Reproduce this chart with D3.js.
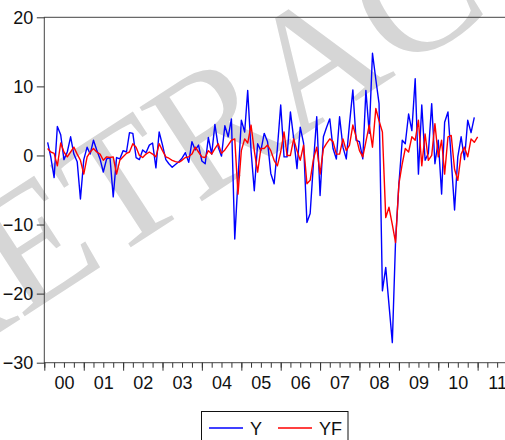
<!DOCTYPE html>
<html>
<head>
<meta charset="utf-8">
<script src="https://cdn.jsdelivr.net/npm/d3@7"></script>
<style>
  html, body { margin: 0; padding: 0; background: #fff; }
  svg { display: block; font-family: "Liberation Sans", Arial, sans-serif; }
</style>
</head>
<body>
<div id="chart"></div>
<script>
// Monthly series, first observation 2000M02
const startMonth = "2000-02";

const yValues = [
  1.9, -0.2, -3.2, 4.2, 3.0, -0.6, 0.5, 2.7, 0.2, -0.9, -6.3, -0.6,
  1.2, 0.2, 2.2, 0.8, -0.5, -2.4, -0.5, -0.3, -6.0, -0.3, -0.5, 0.7,
  0.5, 3.3, 3.2, -0.3, -0.6, 0.8, 0.4, 1.5, 1.8, -1.8, 3.4, 1.5,
  -0.6, -1.2, -1.7, -1.3, -0.9, -0.4, 0.4, -1.0, 2.0, 0.8, 1.5, -0.8,
  -1.2, 2.6, 0.2, 4.5, 1.2, -0.1, 4.3, 2.7, 5.3, -12.1, -3.5, 5.1,
  3.4, 9.4, 0.7, -5.1, 1.7, 0.7, 3.2, 2.0, -2.6, -4.1, 1.0, 7.3,
  -0.2, -0.2, 6.3, 2.5, -1.9, 4.1, 1.8, -9.7, -8.4, -1.0, 5.6, -5.8,
  2.7, 4.0, 5.3, 1.0, -0.5, 5.6, 1.2, -0.5, 4.6, 9.5, 2.2, 2.0,
  -0.5, 9.4, 3.2, 14.8, 11.0, 7.5, -19.6, -16.2, -21.6, -27.1, -12.3, -4.1,
  2.2, 1.7, 6.0, 3.6, 11.1, -2.7, 7.3, -0.7, 0.3, 7.5, -1.2, 2.2,
  -5.6, 4.8, 6.3, -0.5, -7.9, -0.2, 2.7, -0.6, 5.1, 3.3, 5.5
];

const yfValues = [
  1.0, 0.5, 0.3, -1.5, 1.8, 0.5, -0.2, 0.5, 1.2, 0.2, -0.7, -2.7,
  -0.2, 0.5, 1.0, 0.5, 0.2, -0.7, -0.2, -0.3, -0.2, -2.7, -0.7, -0.2,
  0.3, 0.5, 1.7, 1.2, 0.0, -0.3, 0.2, 0.5, 0.2, -0.2, 1.7, 0.7,
  -0.2, -0.4, -0.7, -0.9, -1.0, -0.7, -0.3, -0.2, 0.2, 1.2, 0.5, -0.2,
  -0.3, 0.7, 0.2, 1.0, 1.7, 0.3, 0.8, 1.5, 2.2, 2.4, -5.6, 0.7,
  2.4, 1.8, 4.4, 0.7, -2.4, 1.0, 1.0, 1.5, 0.7, -0.7, -1.5, 0.5,
  3.4, 0.0, 0.0, 2.4, 0.7, -0.7, 1.5, -4.1, -3.6, -0.5, 1.2, -2.7,
  1.0, 1.7, 2.4, 2.0, 0.2, 0.2, 2.4, 0.7, 1.5, 4.4, 2.7, 0.7,
  -0.2, 2.0, 4.4, 1.2, 6.8, 5.0, 3.4, -9.0, -7.5, -10.0, -12.6, -4.1,
  -1.2, 1.0, 0.5, 2.7, 2.2, 5.1, -1.5, 3.1, -0.7, 0.0, 4.6, -0.2,
  2.2, -2.7, 2.7, 2.9, -2.0, -3.6, 0.2, 1.2, -0.2, 2.4, 1.9, 2.7
];

const yTicks = [20, 10, 0, -10, -20, -30];
const yearLabels = ["00", "01", "02", "03", "04", "05", "06", "07", "08", "09", "10", "11"];
const seriesNames = ["Y", "YF"];
const seriesColors = ["#0000ff", "#ff0000"];
const watermarkText = "RETRACTED";

const width = 505, height = 440;
const plot = { left: 44.3, right: 517, top: 17.3, bottom: 362.7 };

const svg = d3.select("#chart").append("svg")
  .attr("width", width)
  .attr("height", height);

const x = d3.scaleTime()
  .domain([new Date(2000, 0, 1), new Date(2012, 0, 1)])
  .range([plot.left, plot.right]);

const y = d3.scaleLinear()
  .domain([-30, 20])
  .range([plot.bottom, plot.top]);

const t0 = d3.timeParse("%Y-%m")(startMonth);
const toPoints = vals => vals.map((v, i) => ({ date: d3.timeMonth.offset(t0, i), value: v }));
const series = [
  { name: seriesNames[0], color: seriesColors[0], points: toPoints(yValues) },
  { name: seriesNames[1], color: seriesColors[1], points: toPoints(yfValues) }
];

// watermark behind the chart
svg.append("text")
  .attr("transform", "translate(318,58) rotate(-33)")
  .attr("text-anchor", "middle")
  .attr("dy", "0.33em")
  .attr("font-family", "'Liberation Serif', 'Times New Roman', serif")
  .attr("font-size", 172)
  .attr("fill", "#d6d6d6")
  .text(watermarkText);

// frame
svg.append("rect")
  .attr("x", plot.left).attr("y", plot.top)
  .attr("width", plot.right - plot.left)
  .attr("height", plot.bottom - plot.top)
  .attr("fill", "none")
  .attr("stroke", "#444")
  .attr("stroke-width", 1);

// y axis
const yAxis = svg.append("g")
  .attr("transform", `translate(${plot.left},0)`)
  .call(d3.axisLeft(y).tickValues(yTicks).tickSize(7.5).tickPadding(3.5));
yAxis.select(".domain").remove();

// x axis: quarter ticks, year ticks, centred year labels
const xMinor = svg.append("g")
  .attr("transform", `translate(0,${plot.bottom})`)
  .call(d3.axisBottom(x).ticks(d3.timeMonth.every(3)).tickSize(5).tickFormat(""));
const xMajor = svg.append("g")
  .attr("transform", `translate(0,${plot.bottom})`)
  .call(d3.axisBottom(x).ticks(d3.timeYear.every(1)).tickSize(8).tickFormat(""));
const midYears = yearLabels.map((l, i) => new Date(2000 + i, 6, 1));
const xLabels = svg.append("g")
  .attr("transform", `translate(0,${plot.bottom})`)
  .call(d3.axisBottom(x).tickValues(midYears).tickSize(0).tickPadding(14)
    .tickFormat((d, i) => yearLabels[i]));
[xMinor, xMajor, xLabels].forEach(g => g.select(".domain").remove());

svg.selectAll(".tick line").attr("stroke", "#333");
svg.selectAll(".tick text")
  .attr("font-size", 18)
  .attr("font-family", "'Liberation Sans', Arial, sans-serif")
  .attr("fill", "#111");

// lines
const line = d3.line()
  .x(d => x(d.date))
  .y(d => y(d.value));

svg.append("g")
  .selectAll("path")
  .data(series)
  .join("path")
    .attr("fill", "none")
    .attr("stroke", d => d.color)
    .attr("stroke-width", 1.4)
    .attr("stroke-linejoin", "round")
    .attr("d", d => line(d.points));

// legend
const legend = svg.append("g");
legend.append("rect")
  .attr("x", 201.5).attr("y", 411.5)
  .attr("width", 146.5).attr("height", 40)
  .attr("fill", "#fff")
  .attr("stroke", "#111");

const items = legend.selectAll("g.item")
  .data(series)
  .join("g")
    .attr("class", "item")
    .attr("transform", (d, i) => `translate(${209 + i * 69},428)`);
items.append("line")
  .attr("x1", 0).attr("x2", 34)
  .attr("stroke", d => d.color)
  .attr("stroke-width", 1.4);
items.append("text")
  .attr("x", 41).attr("y", 7)
  .attr("font-size", 18)
  .attr("fill", "#111")
  .text(d => d.name);
</script>
</body>
</html>
